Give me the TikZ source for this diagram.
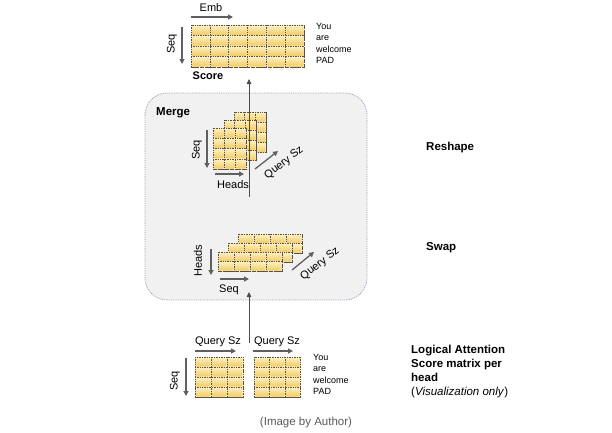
\documentclass[tikz,border=0pt]{standalone}
\usepackage{fontspec}
\setmainfont{Liberation Sans}
\usetikzlibrary{arrows.meta}

\definecolor{celltop}{HTML}{FCEFC2}
\definecolor{cellbot}{HTML}{F2CB62}
\definecolor{celldot}{HTML}{5A5040}
\definecolor{arrgray}{HTML}{5F5F5F}
\definecolor{boxfill}{HTML}{F1F1F1}
\definecolor{boxline}{HTML}{8C9DB2}

\tikzset{
  cellfill/.style={top color=celltop, bottom color=cellbot},
  celledge/.style={draw=celldot, densely dotted, line width=0.7pt},
  dimarr/.style={draw=arrgray, line width=1.3pt, -{Triangle[length=5pt,width=5pt]}},
  flowarr/.style={draw=black!70, line width=0.8pt, -{Triangle[length=5pt,width=4.5pt]}},
  lbl/.style={font=\fontsize{11}{13}\selectfont, inner sep=0pt},
  side/.style={font=\fontsize{11.5}{14}\selectfont\bfseries, inner sep=0pt, align=left},
  words/.style={font=\fontsize{9}{11.5}\selectfont, inner sep=0pt, align=left}
}

% grid of score cells: x, y (top left), cols, rows, cell width, cell height
\newcommand{\cellgrid}[6]{%
  \fill[celltop] (#1,#2) rectangle ++(#3*#5,#4*#6);
  \foreach \i in {1,...,#3}{\foreach \j in {1,...,#4}{
    \shade[cellfill, rounded corners=1.5pt]
      ({#1+(\i-1)*#5+0.4},{#2+(\j-1)*#6+0.5}) rectangle ++(#5-0.8,#6-1);
  }}
  \draw[celledge] (#1,#2) rectangle ++(#3*#5,#4*#6);
  \foreach \i in {1,...,#3}{\draw[celledge] ({#1+\i*#5},#2) -- ++(0,#4*#6);}
  \foreach \j in {1,...,#4}{\draw[celledge] (#1,{#2+\j*#6}) -- ++(#3*#5,0);}
}

\begin{document}
\begin{tikzpicture}[x=1pt,y=-1pt]
  \useasboundingbox (0,0) rectangle (612,432);

  % merge box
  \draw[boxline, fill=boxfill, densely dotted, line width=0.8pt, rounded corners=22pt]
    (145,93) rectangle (367,300);
  \node[side, anchor=west] (merge) at (156,113) {Merge};

  % score at the top
  \cellgrid{191}{25}{6}{4}{18.9}{10.5}
  \node[lbl] (emb) at (211,8) {Emb};
  \coordinate (embL) at (191,17);
  \coordinate (embR) at (233,17);
  \draw[dimarr] (embL) -- (embR);
  \node[lbl, rotate=90] (seqtop) at (172,44) {Seq};
  \coordinate (seqtopA) at (182,27);
  \coordinate (seqtopB) at (182,64);
  \draw[dimarr] (seqtopA) -- (seqtopB);
  \node[lbl, font=\fontsize{11}{13}\selectfont\bfseries] (score) at (208,76) {Score};
  \node[words, anchor=north west] (wordstop) at (316,23) {You\\are\\welcome\\PAD};

  % reshape stack
  \cellgrid{234}{112}{3}{4}{10.7}{10.2}
  \cellgrid{224}{120}{3}{4}{10.7}{10.2}
  \cellgrid{213}{128}{3}{4}{11.2}{10.3}
  \node[lbl, rotate=90] (seqmid) at (197,150) {Seq};
  \coordinate (seqmidA) at (207,130);
  \coordinate (seqmidB) at (207,168);
  \draw[dimarr] (seqmidA) -- (seqmidB);
  \coordinate (headsA) at (215,174);
  \coordinate (headsB) at (244,174);
  \draw[dimarr] (headsA) -- (headsB);
  \node[lbl] (headsmid) at (233,185) {Heads};
  \coordinate (qmidA) at (255,169);
  \coordinate (qmidB) at (278,151);
  \draw[dimarr] (qmidA) -- (qmidB);
  \node[lbl, rotate=38] (qmid) at (284,163) {Query Sz};
  \node[side, anchor=west] (reshape) at (426,148) {Reshape};

  % swap stack
  \cellgrid{238}{234}{4}{2}{16}{9.6}
  \cellgrid{228}{243}{4}{2}{16}{9.6}
  \cellgrid{218}{252}{4}{2}{16}{9.6}
  \node[lbl, rotate=90] (headsswap) at (198,261) {Heads};
  \coordinate (headsswapA) at (211,249);
  \coordinate (headsswapB) at (211,275);
  \draw[dimarr] (headsswapA) -- (headsswapB);
  \coordinate (seqswapA) at (220,279);
  \coordinate (seqswapB) at (249,279);
  \draw[dimarr] (seqswapA) -- (seqswapB);
  \node[lbl] (seqswap) at (229,290) {Seq};
  \coordinate (qswapA) at (292,270);
  \coordinate (qswapB) at (314,252);
  \draw[dimarr] (qswapA) -- (qswapB);
  \node[lbl, rotate=38] (qswap) at (320,264) {Query Sz};
  \node[side, anchor=west] (swap) at (426,248) {Swap};

  % per head scores
  \cellgrid{195}{357}{3}{4}{16}{10}
  \cellgrid{254}{357}{3}{4}{15.5}{10}
  \node[lbl] (qbotA) at (218,342) {Query Sz};
  \node[lbl] (qbotB) at (277,342) {Query Sz};
  \coordinate (qbotAL) at (195,351);
  \coordinate (qbotAR) at (236,351);
  \draw[dimarr] (qbotAL) -- (qbotAR);
  \coordinate (qbotBL) at (253,351);
  \coordinate (qbotBR) at (293,351);
  \draw[dimarr] (qbotBL) -- (qbotBR);
  \node[lbl, rotate=90] (seqbot) at (175,381) {Seq};
  \coordinate (seqbotA) at (186,358);
  \coordinate (seqbotB) at (186,396);
  \draw[dimarr] (seqbotA) -- (seqbotB);
  \node[words, anchor=north west] (wordsbot) at (313,354) {You\\are\\welcome\\PAD};
  \node[side, anchor=north west] (logical) at (411,345)
    {Logical Attention\\Score matrix per\\head\\\mdseries(\textit{Visualization only})};

  % flow between the steps
  \coordinate (srcbot) at (249,343);
  \coordinate (swaptop) at (249,292);
  \coordinate (mergebot) at (249,197);
  \coordinate (scorebot) at (249,79);
  \draw[flowarr] (srcbot) -- (swaptop);
  \draw[flowarr] (mergebot) -- (scorebot);

  \node[font=\fontsize{11.5}{13}\selectfont, text=black!65, inner sep=0pt] (caption) at (306,423) {(Image by Author)};
\end{tikzpicture}
\end{document}
